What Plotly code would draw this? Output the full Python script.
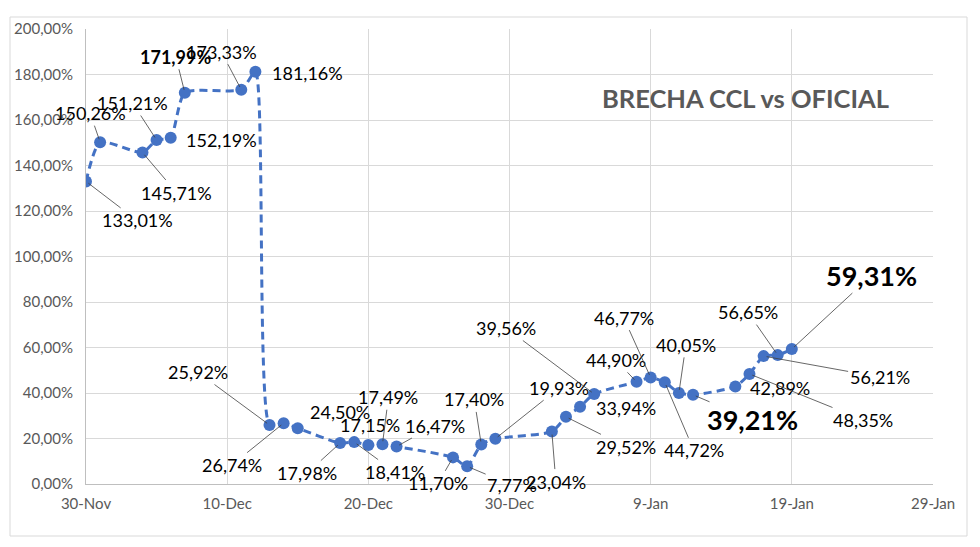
"""Brecha CCL vs oficial - line chart with data labels."""
import plotly.graph_objects as go

dates = [
    '2023-11-30', '2023-12-01', '2023-12-04', '2023-12-05', '2023-12-06', '2023-12-07',
    '2023-12-11', '2023-12-12', '2023-12-13', '2023-12-14', '2023-12-15',
    '2023-12-18', '2023-12-19', '2023-12-20', '2023-12-21', '2023-12-22',
    '2023-12-26', '2023-12-27', '2023-12-28', '2023-12-29',
    '2024-01-02', '2024-01-03', '2024-01-04', '2024-01-05',
    '2024-01-08', '2024-01-09', '2024-01-10', '2024-01-11', '2024-01-12',
    '2024-01-15', '2024-01-16', '2024-01-17', '2024-01-18', '2024-01-19',
]
brecha = [
    133.01, 150.26, 145.71, 151.21, 152.19, 171.99,
    173.33, 181.16, 25.92, 26.74, 24.50,
    17.98, 18.41, 17.15, 17.49, 16.47,
    11.70, 7.77, 17.40, 19.93,
    23.04, 29.52, 33.94, 39.56,
    44.90, 46.77, 44.72, 40.05, 39.21,
    42.89, 48.35, 56.21, 56.65, 59.31,
]
tick_dates = ['2023-11-30', '2023-12-10', '2023-12-20', '2023-12-30',
              '2024-01-09', '2024-01-19', '2024-01-29']
y_ticks = [0, 0.2, 0.4, 0.6, 0.8, 1.0, 1.2, 1.4, 1.6, 1.8, 2.0]

# label placement: (dx, dy, leader line, emphasis)
label_pos = [
    (51, 39, True, 0), (-10, -29, True, 0), (34, 40, True, 0), (-24, -37, True, 0),
    (51, 2, False, 0), (-9, -36, True, 1),
    (-20, -38, True, 0), (52, 1, False, 0), (-72, -53, True, 0), (-52, 42, True, 0),
    (42, -16, False, 0),
    (-33, 30, True, 0), (41, 30, True, 0), (2, -20, False, 0), (6, -47, True, 0),
    (38, -21, True, 0),
    (-15, 26, True, 0), (45, 19, True, 0), (-7, -45, True, 0), (64, -51, True, 0),
    (4, 50, True, 0), (60, 30, True, 0), (46, 1, False, 0), (-88, -66, True, 0),
    (-21, -22, True, 0), (-27, -60, True, 0), (29, 68, True, 0), (7, -48, True, 0),
    (59, 25, True, 2),
    (45, 2, False, 0), (114, 46, True, 0), (116, 21, True, 0), (-30, -43, True, 0),
    (80, -74, True, 2),
]

BLUE = '#4472C4'
FONT = 'Lato, Carlito, Calibri, sans-serif'

# page has an 8px body margin; figure sized so the page is 980x547
W, H = 964, 531
OFF = 8
L, T = 86 - OFF, 29 - OFF
R = W - (933 - OFF)
B = H - (484 - OFF)
pw, ph = W - L - R, H - T - B


def px_x(x):
    return (x - OFF - L) / pw


def px_y(y):
    return (H - B - (y - OFF)) / ph


fig = go.Figure()
fig.add_trace(go.Scatter(
    x=dates, y=[v / 100 for v in brecha],
    mode='lines+markers',
    line=dict(color=BLUE, width=3, dash='8px,5px', shape='spline', smoothing=0.6),
    marker=dict(color=BLUE, size=12),
    hoverinfo='skip',
))

annotations = []
for d, v, (dx, dy, leader, emph) in zip(dates, brecha, label_pos):
    text = f'{v:.2f}%'.replace('.', ',')
    size = 18
    if emph:
        text = '<b>' + text + '</b>'
    if emph == 2:
        size = 27
    a = dict(x=d, y=v / 100, xref='x', yref='y', text=text,
             font=dict(family=FONT, size=size, color='#000000'))
    if leader:
        a.update(showarrow=True, ax=dx, ay=dy, arrowhead=0, arrowwidth=0.8,
                 arrowcolor='#404040', standoff=3)
    else:
        a.update(showarrow=False, xshift=dx, yshift=-dy)
    annotations.append(a)

annotations.append(dict(
    x=px_x(745), y=px_y(98), xref='paper', yref='paper',
    xanchor='center', yanchor='middle',
    text='<b>BRECHA CCL vs OFICIAL</b>', showarrow=False,
    font=dict(family=FONT, size=25.5, color='#595959'),
))

fig.update_layout(
    width=W, height=H,
    margin=dict(l=L, r=R, t=T, b=B),
    paper_bgcolor='white', plot_bgcolor='white',
    separators=',.',
    showlegend=False,
    font=dict(family=FONT, size=15, color='#595959'),
    annotations=annotations,
    shapes=[dict(type='rect', xref='paper', yref='paper',
                 x0=px_x(10), x1=px_x(967), y0=px_y(536), y1=px_y(17),
                 line=dict(color='#d9d9d9', width=1), layer='below')],
    xaxis=dict(
        type='date', range=['2023-11-30', '2024-01-29'],
        tickvals=tick_dates, tickformat='%-d-%b',
        showgrid=True, gridcolor='#d9d9d9', gridwidth=1,
        showline=True, linecolor='#bfbfbf', linewidth=1,
        ticks='', ticklabelstandoff=6, automargin=False,
        tickfont=dict(family=FONT, size=15, color='#595959'),
        zeroline=False,
    ),
    yaxis=dict(
        range=[0, 2], tickvals=y_ticks, tickformat='.2%',
        showgrid=True, gridcolor='#d9d9d9', gridwidth=1,
        showline=True, linecolor='#bfbfbf', linewidth=1,
        ticks='', ticklabelstandoff=9, automargin=False,
        tickfont=dict(family=FONT, size=15, color='#595959'),
        zeroline=False,
    ),
)

fig.write_html('out.html')
